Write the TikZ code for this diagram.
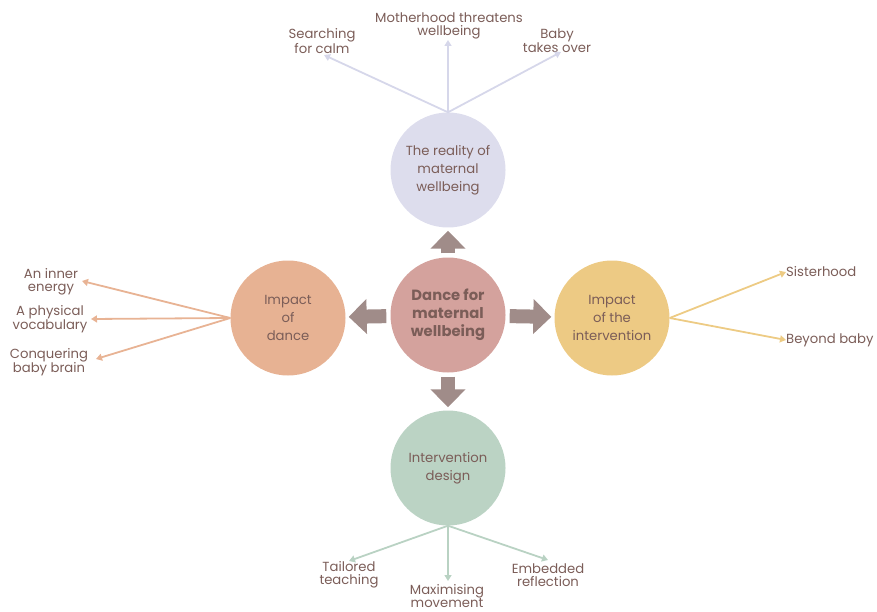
\documentclass[tikz,border=0pt]{standalone}
\usepackage{fontspec}
\setmainfont{Poppins}
\usetikzlibrary{arrows.meta}
\definecolor{txt}{HTML}{7B5D58}
\definecolor{cC}{HTML}{D4A29D}
\definecolor{cT}{HTML}{DDDDED}
\definecolor{cL}{HTML}{E7B293}
\definecolor{cR}{HTML}{EDCA84}
\definecolor{cB}{HTML}{BBD3C4}
\definecolor{fat}{HTML}{A08C89}
\definecolor{lT}{HTML}{D6D7EA}
\definecolor{lL}{HTML}{E8B394}
\definecolor{lR}{HTML}{EDCB84}
\definecolor{lB}{HTML}{B9D2C3}
\tikzset{
  bubble/.style={circle, minimum size=115pt, inner sep=0pt, align=center, text=txt,
    font=\fontsize{13.2}{18}\selectfont},
  leaf/.style={align=center, text=txt, font=\fontsize{13.2}{13}\selectfont, inner sep=0pt},
  fatarrow/.style={draw=fat, line width=14pt, -{Triangle[width=34pt,length=18pt]}, shorten <=4pt, shorten >=3pt},
  thin/.style={line width=1.8pt, -{Triangle[width=7pt,length=6pt]}}
}
\begin{document}
\begin{tikzpicture}[x=1pt,y=-1pt]
\useasboundingbox (0,0) rectangle (877,612);
% circles
\node[bubble, fill=cC, font=\bfseries\fontsize{14.8}{18}\selectfont] (C) at (448,315) {Dance for\\maternal\\wellbeing};
\node[bubble, fill=cT] (T) at (448,170) {The reality of\\maternal\\wellbeing};
\node[bubble, fill=cL] (L) at (288,318) {Impact\\of\\dance};
\node[bubble, fill=cR] (R) at (612,318) {Impact\\of the\\intervention};
\node[bubble, fill=cB] (B) at (448,468) {Intervention\\design};
% fat arrows
\draw[fatarrow] (C) -- (T);
\draw[fatarrow] (C) -- (L);
\draw[fatarrow] (C) -- (R);
\draw[fatarrow] (C) -- (B);
% top leaves
\node[leaf] (t1) at (322,41) {Searching\\for calm};
\node[leaf] (t2) at (449,26) {Motherhood threatens\\wellbeing};
\node[leaf] (t3) at (557,41) {Baby\\takes over};
\coordinate (t1e) at (324,55);
\coordinate (t2e) at (448,40);
\coordinate (t3e) at (561,52);
\draw[thin, draw=lT] (T.north) -- (t1e);
\draw[thin, draw=lT] (T.north) -- (t2e);
\draw[thin, draw=lT] (T.north) -- (t3e);
% left leaves
\node[leaf] (l1) at (51,282) {An inner\\energy};
\node[leaf] (l2) at (50,319) {A physical\\vocabulary};
\node[leaf] (l3) at (49,362) {Conquering\\baby brain};
\coordinate (l1e) at (82,281);
\coordinate (l2e) at (91,319);
\coordinate (l3e) at (96,359);
\draw[thin, draw=lL] (L.west) -- (l1e);
\draw[thin, draw=lL] (L.west) -- (l2e);
\draw[thin, draw=lL] (L.west) -- (l3e);
% right leaves
\node[leaf, anchor=west] (r1) at (786,272) {Sisterhood};
\node[leaf, anchor=west] (r2) at (786,340) {Beyond baby};
\draw[thin, draw=lR] (R.east) -- (r1.west);
\draw[thin, draw=lR] (R.east) -- (r2.west);
% bottom leaves
\node[leaf] (b1) at (349,575) {Tailored\\teaching};
\node[leaf] (b2) at (447,596) {Maximising\\movement};
\node[leaf] (b3) at (548,575) {Embedded\\reflection};
\coordinate (b1e) at (349,561);
\coordinate (b2e) at (448,581);
\coordinate (b3e) at (548,560);
\draw[thin, draw=lB] (B.south) -- (b1e);
\draw[thin, draw=lB] (B.south) -- (b2e);
\draw[thin, draw=lB] (B.south) -- (b3e);
\end{tikzpicture}
\end{document}
